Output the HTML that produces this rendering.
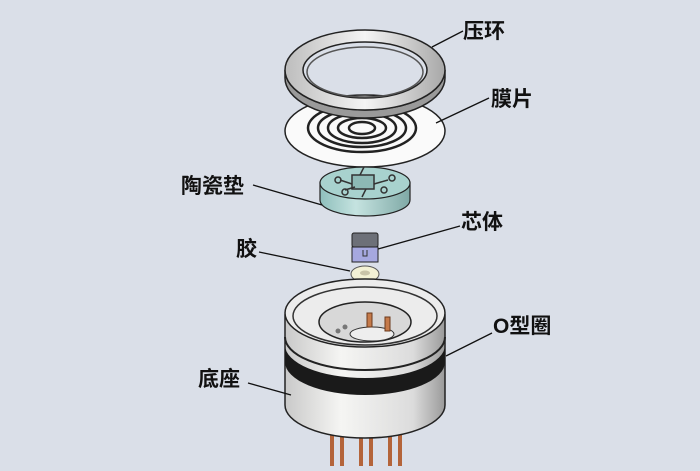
<!DOCTYPE html>
<html><head><meta charset="utf-8"><style>
body{margin:0;width:700px;height:466px;overflow:hidden;background:#dadfe8}
svg text{font-family:"Liberation Sans","Noto Sans CJK SC",sans-serif;font-weight:bold;font-size:21px;fill:#111}
</style></head><body>
<svg width="700" height="466" viewBox="0 0 700 466" xmlns="http://www.w3.org/2000/svg">
<defs>
<linearGradient id="ring" x1="0" x2="1"><stop offset="0" stop-color="#bdbdbd"/><stop offset=".5" stop-color="#f4f4f4"/><stop offset="1" stop-color="#a8a8a8"/></linearGradient>
<linearGradient id="cyl" x1="0" x2="1"><stop offset="0" stop-color="#c9c9c9"/><stop offset=".35" stop-color="#f5f5f3"/><stop offset=".8" stop-color="#dcdcdc"/><stop offset="1" stop-color="#9a9a9a"/></linearGradient>
<linearGradient id="cer" x1="0" x2="1"><stop offset="0" stop-color="#8fbfbc"/><stop offset=".4" stop-color="#c5e3e0"/><stop offset="1" stop-color="#7fa9a6"/></linearGradient>
</defs>
<!-- diaphragm -->
<ellipse cx="365" cy="131" rx="80" ry="36" fill="#fafafa" stroke="#222" stroke-width="1.5"/>
<g fill="none" stroke="#222" stroke-width="2.5">
<ellipse cx="362" cy="128" rx="54" ry="24"/>
<ellipse cx="362" cy="128" rx="44" ry="19"/>
<ellipse cx="362" cy="128" rx="34" ry="15"/>
<ellipse cx="362" cy="128" rx="24" ry="10"/>
<ellipse cx="362" cy="128" rx="13" ry="6"/>
</g>
<!-- press ring -->
<path d="M285 70 A80 40 0 0 0 445 70 L445 78 A80 40 0 0 1 285 78 Z" fill="#9a9a9a" stroke="#222" stroke-width="1.5"/>
<path d="M285 70 A80 40 0 1 1 445 70 A80 40 0 1 1 285 70 Z M303 70 A62 28 0 1 0 427 70 A62 28 0 1 0 303 70 Z" fill="url(#ring)" fill-rule="evenodd" stroke="#222" stroke-width="1.5"/>
<ellipse cx="365" cy="72" rx="58" ry="25" fill="none" stroke="#555" stroke-width="1.5"/>
<!-- ceramic -->
<path d="M320 183 L320 200 A45 16 0 0 0 410 200 L410 183 Z" fill="url(#cer)" stroke="#222" stroke-width="1.2"/>
<ellipse cx="365" cy="183" rx="45" ry="16" fill="#a8d2ce" stroke="#222" stroke-width="1.2"/>
<g stroke="#333" stroke-width="1.5" fill="none">
<rect x="352" y="175" width="22" height="14" fill="#8db9b5"/>
<path d="M340 180 l12 4 M374 184 l14 -4 M360 175 l4 -8 M366 189 l-4 8 M345 190 l10 -3"/>
<circle cx="338" cy="180" r="3"/><circle cx="392" cy="178" r="3"/><circle cx="345" cy="192" r="3"/><circle cx="384" cy="190" r="3"/>
</g>
<!-- chip -->
<rect x="352" y="233" width="26" height="14" rx="2" fill="#6d7078" stroke="#222"/>
<rect x="352" y="247" width="26" height="15" fill="#a6a8df" stroke="#222"/>
<path d="M363 250 v6 h4 v-6" fill="none" stroke="#333"/>
<!-- glue -->
<ellipse cx="365" cy="274" rx="14" ry="8" fill="#f3f1d4" stroke="#555"/>
<ellipse cx="365" cy="273" rx="5" ry="2.5" fill="#c9c4a8"/>
<!-- pins -->
<g stroke="#b4643a" stroke-width="4">
<line x1="332" y1="430" x2="332" y2="466"/><line x1="342" y1="430" x2="342" y2="466"/>
<line x1="361" y1="430" x2="361" y2="466"/><line x1="371" y1="430" x2="371" y2="466"/>
<line x1="390" y1="430" x2="390" y2="466"/><line x1="400" y1="430" x2="400" y2="466"/>
</g>
<!-- base -->
<path d="M285 315 L285 405 A80 33 0 0 0 445 405 L445 315 Z" fill="url(#cyl)" stroke="#222" stroke-width="1.5"/>
<path d="M285 345 A80 33 0 0 0 445 345 L445 362 A80 33 0 0 1 285 362 Z" fill="#1a1a1a"/>
<path d="M285 337 A80 33 0 0 0 445 337" fill="none" stroke="#222" stroke-width="2"/>
<ellipse cx="365" cy="313" rx="80" ry="34" fill="#ececec" stroke="#222" stroke-width="1.5"/>
<ellipse cx="365" cy="316" rx="72" ry="29" fill="none" stroke="#333" stroke-width="1.5"/>
<ellipse cx="365" cy="322" rx="46" ry="20" fill="#d8d8d8" stroke="#222" stroke-width="1.5"/>
<ellipse cx="372" cy="334" rx="22" ry="7" fill="#eee" stroke="#333"/>
<g fill="#c57a4a" stroke="#6b3a1d"><rect x="367" y="313" width="5" height="14"/><rect x="385" y="317" width="5" height="14"/></g>
<circle cx="338" cy="331" r="2.5" fill="#777"/><circle cx="345" cy="327" r="2.5" fill="#777"/>
<!-- leaders -->
<g stroke="#111" stroke-width="1.3">
<line x1="432" y1="47" x2="463" y2="31"/>
<line x1="436" y1="123" x2="489" y2="98"/>
<line x1="253" y1="185" x2="322" y2="205"/>
<line x1="378" y1="249" x2="460" y2="226"/>
<line x1="259" y1="252" x2="350" y2="271"/>
<line x1="446" y1="356" x2="492" y2="333"/>
<line x1="248" y1="383" x2="291" y2="395"/>
</g>
<text x="463" y="38">压环</text>
<text x="491" y="106">膜片</text>
<text x="181" y="193">陶瓷垫</text>
<text x="461" y="229">芯体</text>
<text x="236" y="256">胶</text>
<text x="493" y="333">O型圈</text>
<text x="198" y="386">底座</text>
</svg>
</body></html>
